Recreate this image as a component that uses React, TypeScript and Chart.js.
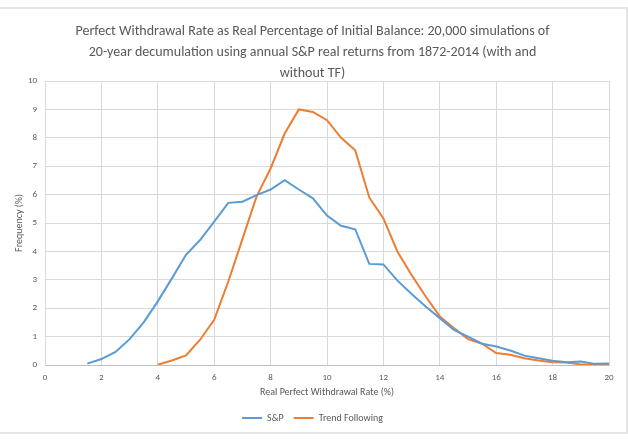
import React, { useEffect, useRef } from "react";
import Chart from "chart.js/auto";

const titleLines = [
  "Perfect Withdrawal Rate as Real Percentage of Initial Balance: 20,000 simulations of",
  "20-year decumulation using annual S&P real returns from 1872-2014 (with and",
  "without TF)",
];
const xAxisTitle = "Real Perfect Withdrawal Rate (%)";
const yAxisTitle = "Frequency (%)";
const seriesNames = ["S&P", "Trend Following"];

const spRates = [
  1.5, 2, 2.5, 3, 3.5, 4, 4.5, 5, 5.5, 6, 6.5, 7, 7.5, 8, 8.5, 9, 9.5, 10, 10.5, 11,
  11.5, 12, 12.5, 13, 13.5, 14, 14.5, 15, 15.5, 16, 16.5, 17, 17.5, 18, 18.5, 19, 19.5, 20,
];
const spFreq = [
  0.05, 0.21, 0.46, 0.91, 1.5, 2.24, 3.05, 3.88, 4.4, 5.05, 5.71, 5.75, 5.98, 6.18, 6.51, 6.18,
  5.87, 5.26, 4.9, 4.78, 3.56, 3.54, 2.97, 2.5, 2.06, 1.65, 1.24, 1.0, 0.75, 0.65, 0.51, 0.33,
  0.24, 0.15, 0.1, 0.12, 0.04, 0.05,
];
const tfRates = [
  4, 4.5, 5, 5.5, 6, 6.5, 7, 7.5, 8, 8.5, 9, 9.5, 10, 10.5, 11, 11.5, 12, 12.5, 13, 13.5,
  14, 14.5, 15, 15.5, 16, 16.5, 17, 17.5, 18, 18.5, 19, 19.5, 20,
];
const tfFreq = [
  0.01, 0.16, 0.34, 0.89, 1.59, 2.94, 4.43, 5.93, 6.92, 8.15, 9.0, 8.91, 8.62, 8.0, 7.56, 5.9,
  5.16, 3.99, 3.17, 2.41, 1.71, 1.3, 0.91, 0.75, 0.42, 0.36, 0.24, 0.16, 0.1, 0.09, 0.02, 0.02,
  0.02,
];

const FONT = 'Carlito, "Liberation Sans Narrow", Lato, "Open Sans", sans-serif';
const TEXT = "#595959";

export default function App() {
  const ref = useRef<HTMLCanvasElement | null>(null);
  useEffect(() => {
    if (!ref.current) return;
    const chart = new Chart(ref.current, {
      type: "line",
      data: {
        datasets: [
          {
            label: seriesNames[0],
            data: spRates.map((x, i) => ({ x, y: spFreq[i] })),
            borderColor: "#5B9BD5",
            backgroundColor: "#5B9BD5",
            borderWidth: 2,
            pointRadius: 0,
            tension: 0,
          },
          {
            label: seriesNames[1],
            data: tfRates.map((x, i) => ({ x, y: tfFreq[i] })),
            borderColor: "#ED7D31",
            backgroundColor: "#ED7D31",
            borderWidth: 2,
            pointRadius: 0,
            tension: 0,
          },
        ],
      },
      options: {
        responsive: false,
        animation: false,
        devicePixelRatio: 1,
        layout: { padding: { left: 2, right: 5, top: 0, bottom: 9 } },
        plugins: {
          title: {
            display: true,
            text: titleLines,
            color: TEXT,
            font: { family: FONT, size: 14, weight: "normal", lineHeight: 1.5 },
            padding: { top: 21, bottom: -3 },
          },
          legend: {
            position: "bottom",
            labels: {
              usePointStyle: true,
              pointStyle: "line",
              pointStyleWidth: 20,
              color: TEXT,
              font: { family: FONT, size: 10 },
              padding: 10,
            },
          },
          tooltip: { enabled: false },
        },
        scales: {
          x: {
            type: "linear",
            min: 0,
            max: 20,
            ticks: { stepSize: 2, color: TEXT, font: { family: FONT, size: 9 }, padding: 7 },
            grid: { color: "#d9d9d9", drawTicks: false },
            border: { color: "#bfbfbf" },
            title: {
              display: true,
              text: xAxisTitle,
              color: TEXT,
              font: { family: FONT, size: 10 },
              padding: { top: 0, bottom: 5 },
            },
            afterFit: (s: any) => {
              s.height = 38;
            },
          },
          y: {
            type: "linear",
            min: 0,
            max: 10,
            ticks: { stepSize: 1, color: TEXT, font: { family: FONT, size: 9 }, padding: 8 },
            grid: { color: "#d9d9d9", drawTicks: false },
            border: { color: "#d9d9d9" },
            title: {
              display: true,
              text: yAxisTitle,
              color: TEXT,
              font: { family: FONT, size: 10 },
              padding: { top: 11.5, bottom: 0 },
            },
            afterFit: (s: any) => {
              s.width = 43;
            },
          },
          yRight: {
            type: "linear",
            position: "right",
            min: 0,
            max: 10,
            display: true,
            ticks: { display: false },
            grid: { display: false },
            border: { display: false },
            afterFit: (s: any) => {
              s.width = 14;
            },
          },
        },
      },
    });
    return () => chart.destroy();
  }, []);

  return (
    <div style={{ position: "absolute", left: 0, top: 0, width: 628, height: 442, background: "#fff" }}>
      <canvas ref={ref} width={628} height={442} style={{ position: "absolute", left: 0, top: 0, width: 628, height: 442 }} />
      <div
        style={{
          position: "absolute",
          left: -2,
          top: 7,
          width: 630,
          height: 427,
          border: "2px solid #e6e6e6",
          boxSizing: "border-box",
          pointerEvents: "none",
        }}
      />
    </div>
  );
}
